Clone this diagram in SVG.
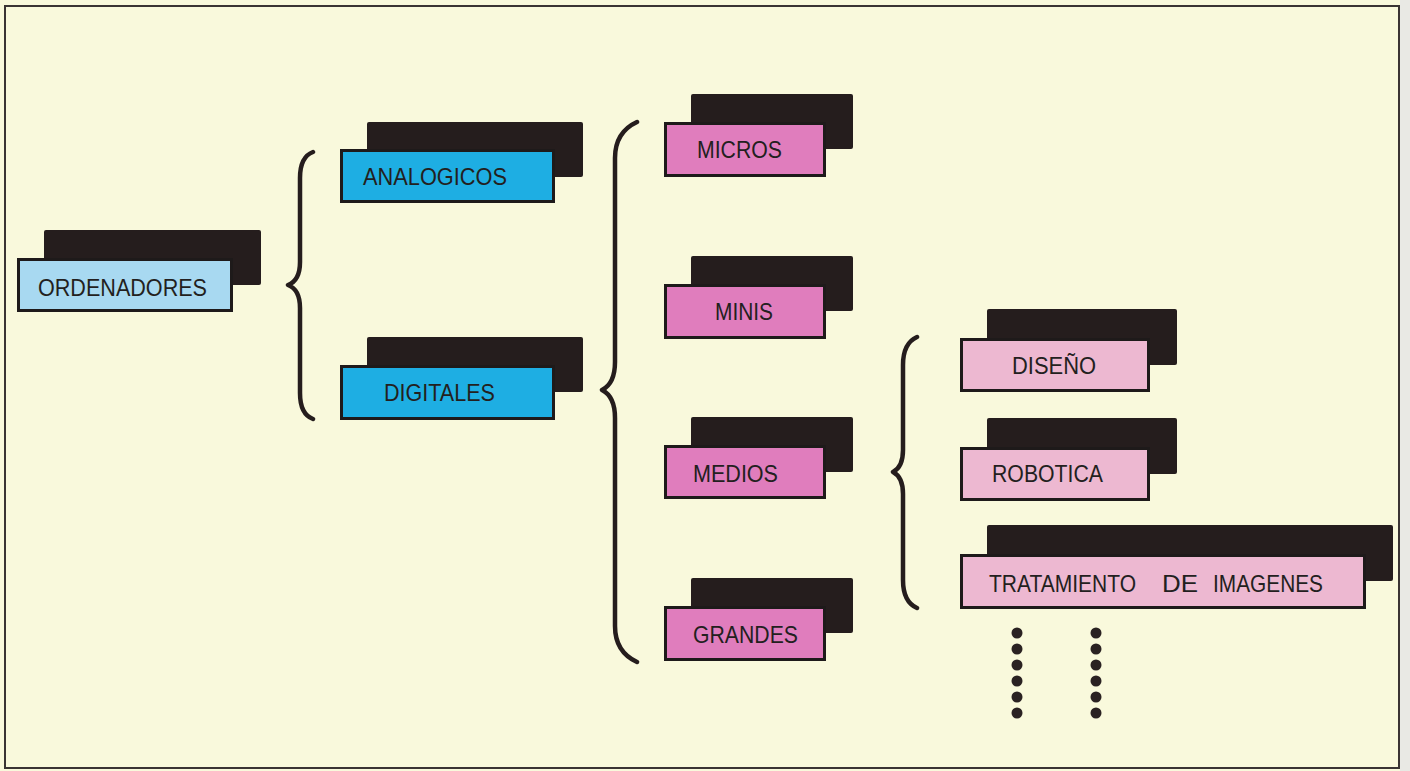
<svg xmlns="http://www.w3.org/2000/svg" width="1410" height="771" viewBox="0 0 1410 771">
  <style>
    .shadow { fill: #251d1d; }
    .box { stroke: #1e1a1a; stroke-width: 3; }
    .lblue { fill: #a8d9f1; }
    .blue { fill: #1eaee3; }
    .pink { fill: #e07dbd; }
    .lpink { fill: #edb8d1; }
    .lbl { font-family: "Liberation Sans", Arial, sans-serif; font-size: 24.5px; fill: #231f20; }
    .brace { fill: none; stroke: #251d1d; stroke-width: 4.5; stroke-linecap: round; stroke-linejoin: round; }
    .dot { fill: #2a2222; }
  </style>
  <rect x="0" y="0" width="1410" height="771" fill="#f9f9dc"/>
  <rect x="1400" y="0" width="10" height="771" fill="#e9e9e4"/>
  <rect x="5" y="6" width="1394" height="762" fill="none" stroke="#3a3434" stroke-width="2"/>

  <g id="connectors">
    <path class="brace" d="M313,152 C305,155 300,163 300,178 L300,262 C300,275 296,282 288,285 C296,288 300,295 300,308 L300,393 C300,408 305,416 313,419"/>
    <path class="brace" d="M637,122 C624,128 615,138 615,158 L615,362 C615,378 610,386 602,390 C610,394 615,402 615,418 L615,626 C615,646 624,656 637,662"/>
    <path class="brace" d="M917,337 C908,341 903,350 903,365 L903,450 C903,462 899,469 893,472 C899,475 903,482 903,494 L903,580 C903,595 908,604 917,608"/>
  </g>

  <g id="ordenadores">
    <rect class="shadow" x="44" y="230" width="217" height="55" rx="2"/>
    <rect class="box lblue" x="18.5" y="259.5" width="213" height="51"/>
    <text class="lbl" x="38" y="296" textLength="169" lengthAdjust="spacingAndGlyphs">ORDENADORES</text>
  </g>
  <g id="analogicos">
    <rect class="shadow" x="367" y="122" width="216" height="55" rx="2"/>
    <rect class="box blue" x="341.5" y="150.5" width="212" height="51"/>
    <text class="lbl" x="363" y="185" textLength="144" lengthAdjust="spacingAndGlyphs">ANALOGICOS</text>
  </g>
  <g id="digitales">
    <rect class="shadow" x="367" y="337" width="216" height="55" rx="2"/>
    <rect class="box blue" x="341.5" y="366.5" width="212" height="52"/>
    <text class="lbl" x="384" y="401" textLength="111" lengthAdjust="spacingAndGlyphs">DIGITALES</text>
  </g>
  <g id="micros">
    <rect class="shadow" x="691" y="94" width="162" height="55" rx="2"/>
    <rect class="box pink" x="665.5" y="123.5" width="159" height="52"/>
    <text class="lbl" x="697" y="158" textLength="85" lengthAdjust="spacingAndGlyphs">MICROS</text>
  </g>
  <g id="minis">
    <rect class="shadow" x="691" y="256" width="162" height="55" rx="2"/>
    <rect class="box pink" x="665.5" y="285.5" width="159" height="52"/>
    <text class="lbl" x="715" y="320" textLength="58" lengthAdjust="spacingAndGlyphs">MINIS</text>
  </g>
  <g id="medios">
    <rect class="shadow" x="691" y="417" width="162" height="55" rx="2"/>
    <rect class="box pink" x="665.5" y="446.5" width="159" height="51"/>
    <text class="lbl" x="693" y="482" textLength="85" lengthAdjust="spacingAndGlyphs">MEDIOS</text>
  </g>
  <g id="grandes">
    <rect class="shadow" x="691" y="578" width="162" height="55" rx="2"/>
    <rect class="box pink" x="665.5" y="607.5" width="159" height="52"/>
    <text class="lbl" x="693" y="643" textLength="105" lengthAdjust="spacingAndGlyphs">GRANDES</text>
  </g>
  <g id="diseno">
    <rect class="shadow" x="987" y="309" width="190" height="56" rx="2"/>
    <rect class="box lpink" x="961.5" y="339.5" width="187" height="51"/>
    <text class="lbl" x="1012" y="374" textLength="84" lengthAdjust="spacingAndGlyphs">DISEÑO</text>
  </g>
  <g id="robotica">
    <rect class="shadow" x="987" y="418" width="190" height="56" rx="2"/>
    <rect class="box lpink" x="961.5" y="448.5" width="187" height="51"/>
    <text class="lbl" x="992" y="482" textLength="111" lengthAdjust="spacingAndGlyphs">ROBOTICA</text>
  </g>
  <g id="tratamiento">
    <rect class="shadow" x="987" y="525" width="406" height="56" rx="2"/>
    <rect class="box lpink" x="961.5" y="555.5" width="403" height="52"/>
    <text class="lbl" x="989" y="592" textLength="147" lengthAdjust="spacingAndGlyphs">TRATAMIENTO</text>
    <text class="lbl" x="1162" y="592" textLength="36" lengthAdjust="spacingAndGlyphs">DE</text>
    <text class="lbl" x="1213" y="592" textLength="110" lengthAdjust="spacingAndGlyphs">IMAGENES</text>
  </g>

  <g id="dots">
    <circle class="dot" cx="1017" cy="633" r="5.5"/>
    <circle class="dot" cx="1017" cy="649" r="5.5"/>
    <circle class="dot" cx="1017" cy="665" r="5.5"/>
    <circle class="dot" cx="1017" cy="681" r="5.5"/>
    <circle class="dot" cx="1017" cy="697" r="5.5"/>
    <circle class="dot" cx="1017" cy="713" r="5.5"/>
    <circle class="dot" cx="1096" cy="633" r="5.5"/>
    <circle class="dot" cx="1096" cy="649" r="5.5"/>
    <circle class="dot" cx="1096" cy="665" r="5.5"/>
    <circle class="dot" cx="1096" cy="681" r="5.5"/>
    <circle class="dot" cx="1096" cy="697" r="5.5"/>
    <circle class="dot" cx="1096" cy="713" r="5.5"/>
  </g>
</svg>
